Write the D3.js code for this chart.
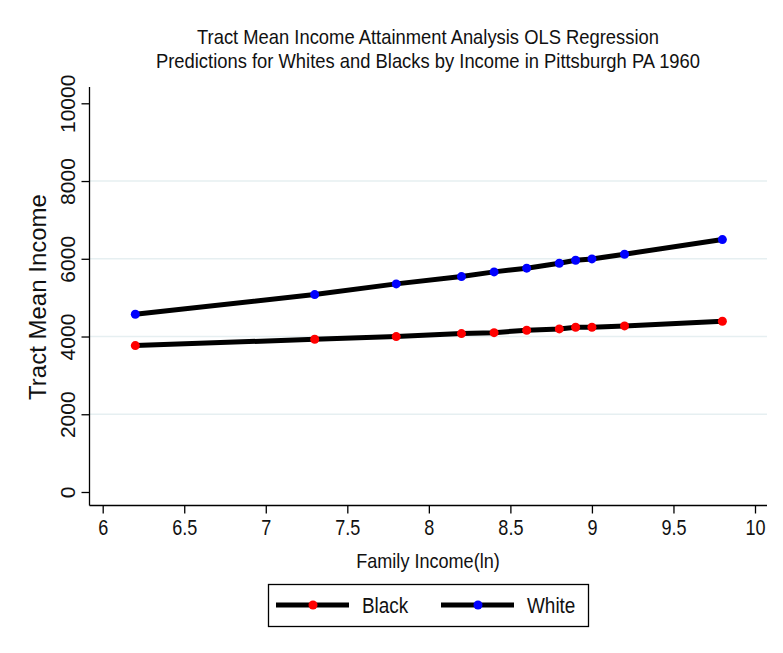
<!DOCTYPE html>
<html lang="en">
<head>
    <meta charset="UTF-8">
    <title>Tract Mean Income</title>
    <script src="https://cdn.jsdelivr.net/npm/d3@7/dist/d3.min.js"></script>
    <style>
        body {
            margin: 0;
            background: #ffffff;
        }

        svg {
            display: block;
        }

        text {
            font-family: "Liberation Sans", Arial, sans-serif;
            fill: #111111;
        }
    </style>
</head>
<body>
<svg width="783" height="653"></svg>

<script>

    // data
    var incomes = [6.2, 7.3, 7.8, 8.2, 8.4, 8.6, 8.8, 8.9, 9.0, 9.2, 9.8];
    var whiteValues = [4574, 5079, 5354, 5542, 5663, 5758, 5886, 5963, 5997, 6118, 6494];
    var blackValues = [3766, 3930, 3998, 4075, 4100, 4162, 4196, 4239, 4239, 4273, 4394];
    var xTicks = [6, 6.5, 7, 7.5, 8, 8.5, 9, 9.5, 10];
    var yTicks = [0, 2000, 4000, 6000, 8000, 10000];
    var gridTicks = [2000, 4000, 6000, 8000];
    var titleLines = ['Tract Mean Income Attainment Analysis OLS Regression',
        'Predictions for Whites and Blacks by Income in Pittsburgh PA 1960'];
    var seriesNames = ['Black', 'White'];
    var seriesColors = ['#ff0000', '#0000ff'];

    var svg = d3.select('svg');

    var axisLeft = 89.5;
    var axisRight = 767;
    var axisTop = 87;
    var axisBottom = 505.5;

    var x = d3.scaleLinear().domain([6, 10]).range([102.7, 755]);
    var y = d3.scaleLinear().domain([0, 10000]).range([492, 103.3]);

    // no narrow font installed: squeeze the glyphs instead
    function narrow(sel, factor) {
        sel.each(function () {
            var w = this.getComputedTextLength();
            d3.select(this)
                .attr('textLength', w * factor)
                .attr('lengthAdjust', 'spacingAndGlyphs');
        });
    }

    // title
    svg.selectAll('.title')
        .data(titleLines)
        .enter()
        .append('text')
        .attr('class', 'title')
        .attr('x', 428)
        .attr('y', function (d, i) {
            return 44 + i * 24;
        })
        .attr('text-anchor', 'middle')
        .style('font-size', '21px')
        .text(function (d) {
            return d;
        })
        .call(narrow, 0.875);

    // grid lines
    svg.append('g')
        .selectAll('line')
        .data(gridTicks)
        .enter()
        .append('line')
        .attr('x1', axisLeft)
        .attr('x2', axisRight)
        .attr('y1', function (d) { return y(d); })
        .attr('y2', function (d) { return y(d); })
        .style('stroke', '#e6eff1')
        .style('stroke-width', 1.5);

    // y axis
    var yAxis = svg.append('g')
        .attr('transform', 'translate(' + axisLeft + ',0)')
        .call(d3.axisLeft(y).tickValues(yTicks).tickSize(8).tickSizeOuter(0).tickFormat(d3.format('d')));
    yAxis.select('.domain').remove();
    yAxis.append('line')
        .attr('y1', axisTop).attr('y2', axisBottom)
        .style('stroke', '#000').style('stroke-width', 1.3);
    yAxis.selectAll('.tick line').style('stroke', '#000').style('stroke-width', 1.3);
    yAxis.selectAll('.tick text')
        .attr('x', null).attr('dy', null)
        .attr('text-anchor', 'middle')
        .attr('transform', 'translate(-15,0) rotate(-90)')
        .style('font-size', '21px')
        .style('font-family', '"Liberation Sans", Arial, sans-serif')
        .style('fill', '#111');

    // x axis
    var xAxis = svg.append('g')
        .attr('transform', 'translate(0,' + axisBottom + ')')
        .call(d3.axisBottom(x).tickValues(xTicks).tickSize(8).tickSizeOuter(0).tickFormat(d3.format('')));
    xAxis.select('.domain').remove();
    xAxis.append('line')
        .attr('x1', axisLeft).attr('x2', axisRight)
        .style('stroke', '#000').style('stroke-width', 1.3);
    xAxis.selectAll('.tick line').style('stroke', '#000').style('stroke-width', 1.3);
    xAxis.selectAll('.tick text')
        .attr('y', 14)
        .style('font-size', '22px')
        .style('fill', '#111')
        .style('font-family', '"Liberation Sans", Arial, sans-serif')
        .call(narrow, 0.82);

    // axis titles
    svg.append('text')
        .attr('transform', 'translate(46,297) rotate(-90)')
        .attr('text-anchor', 'middle')
        .style('font-size', '24px')
        .text('Tract Mean Income');

    svg.append('text')
        .attr('x', 428)
        .attr('y', 568)
        .attr('text-anchor', 'middle')
        .style('font-size', '21px')
        .text('Family Income(ln)')
        .call(narrow, 0.86);

    // series
    var line = d3.line()
        .x(function (d) { return x(d[0]); })
        .y(function (d) { return y(d[1]); });

    var series = [blackValues, whiteValues].map(function (vals, i) {
        return {
            name: seriesNames[i],
            color: seriesColors[i],
            points: incomes.map(function (inc, j) { return [inc, vals[j]]; })
        };
    });

    var layer = svg.append('g');
    series.forEach(function (s) {
        layer.append('path')
            .datum(s.points)
            .attr('d', line)
            .style('fill', 'none')
            .style('stroke', '#000')
            .style('stroke-width', 5);
        layer.selectAll(null)
            .data(s.points)
            .enter()
            .append('circle')
            .attr('cx', function (d) { return x(d[0]); })
            .attr('cy', function (d) { return y(d[1]); })
            .attr('r', 4.5)
            .style('fill', s.color);
    });

    // legend
    var legend = svg.append('g');
    legend.append('rect')
        .attr('x', 268.5).attr('y', 584.5)
        .attr('width', 320).attr('height', 42)
        .style('fill', '#fff')
        .style('stroke', '#000')
        .style('stroke-width', 1.3);

    var legendLineX = [276, 441];
    var legendTextX = [362, 527];
    series.forEach(function (s, i) {
        var g = legend.append('g');
        g.append('line')
            .attr('x1', legendLineX[i]).attr('x2', legendLineX[i] + 73)
            .attr('y1', 605).attr('y2', 605)
            .style('stroke', '#000').style('stroke-width', 5);
        g.append('circle')
            .attr('cx', legendLineX[i] + 37).attr('cy', 605)
            .attr('r', 4.5)
            .style('fill', s.color);
        g.append('text')
            .attr('x', legendTextX[i]).attr('y', 613)
            .style('font-size', '22px')
            .text(s.name)
            .call(narrow, 0.86);
    });

</script>

</body>
</html>
